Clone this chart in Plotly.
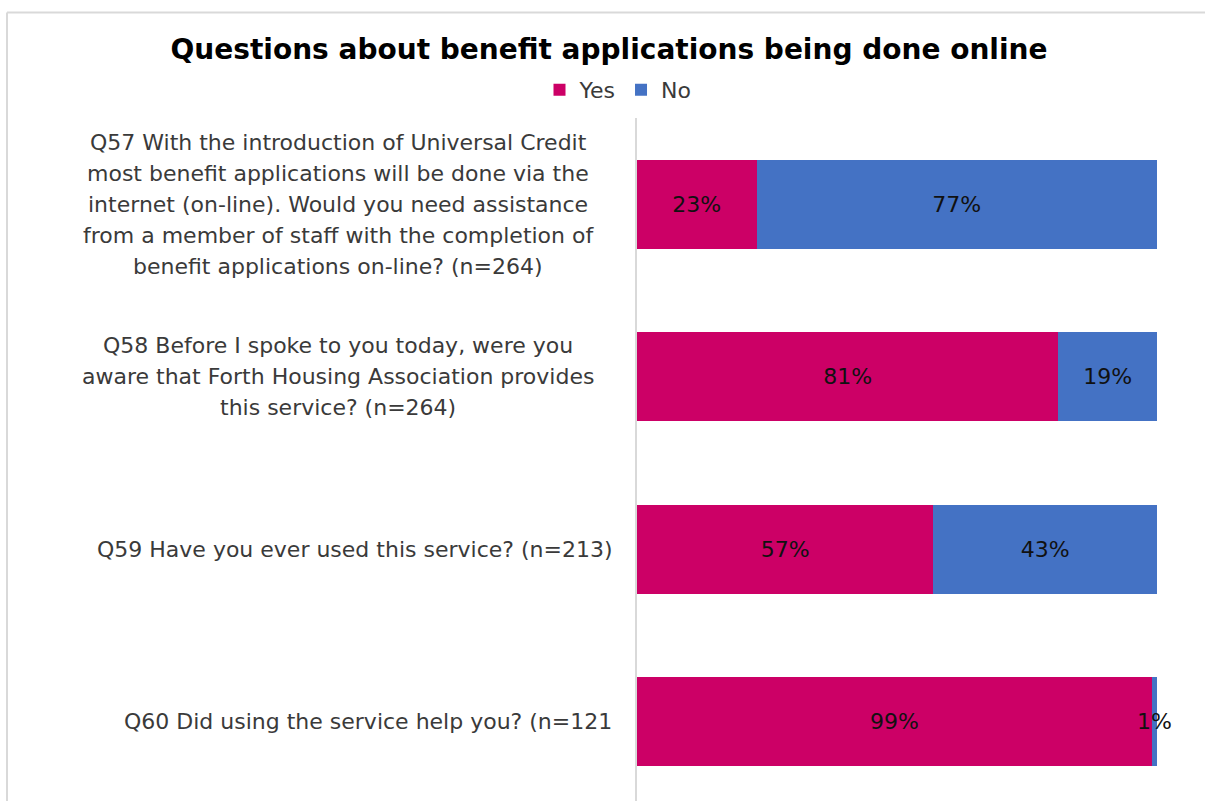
import plotly.graph_objects as go

# Survey questions (one list of wrapped lines per question) and response shares
questions = [
    ["Q57 With the introduction of Universal Credit",
     "most benefit applications will be done via the",
     "internet (on-line). Would you need assistance",
     "from a member of staff with the completion of",
     "benefit applications on-line? (n=264)"],
    ["Q58 Before I spoke to you today, were you",
     "aware that Forth Housing Association provides",
     "this service? (n=264)"],
    ["Q59 Have you ever used this service? (n=213)"],
    ["Q60 Did using the service help you? (n=121"],
]
categories = ["Q57", "Q58", "Q59", "Q60"]
yes_pct = [23, 81, 57, 99]
no_pct = [77, 19, 43, 1]

YES_COLOR = "#CC0066"
NO_COLOR = "#4472C4"
FONT = "DejaVu Sans"

W, H = 1205, 801
ML, MR, MT, MB = 637, 48, 118, 0
plot_w = W - ML - MR
plot_h = H - MT - MB

fig = go.Figure()
for name, vals, color in [("Yes", yes_pct, YES_COLOR), ("No", no_pct, NO_COLOR)]:
    fig.add_trace(go.Bar(
        name=name, y=categories, x=vals, orientation="h",
        marker=dict(color=color, line=dict(width=0)),
        texttemplate="%{x}%", textposition="inside", insidetextanchor="middle",
        textangle=0, constraintext="none", cliponaxis=False,
        textfont=dict(family=FONT, size=22, color="#111111"),
        hoverinfo="skip",
    ))

# Category labels: lines centred within each block, block right-aligned to the axis
line_gap = 31
block_center_px = 338
for cat, lines in zip(categories, questions):
    n = len(lines)
    for i, line in enumerate(lines):
        shift = ((n - 1) / 2 - i) * line_gap
        if n == 1:
            x, xanchor = (614 - ML) / plot_w, "right"
        else:
            x, xanchor = (block_center_px - ML) / plot_w, "center"
        fig.add_annotation(
            x=x, xref="paper", y=cat, yref="y", yshift=shift,
            text=line, showarrow=False, xanchor=xanchor, yanchor="middle",
            font=dict(family=FONT, size=22, color="#3a3a3a"),
        )

# Light frame around the chart (top and left edges)
def px_x(px):
    return (px - ML) / plot_w

def px_y(py):
    return (H - MB - py) / plot_h

frame = dict(type="line", xref="paper", yref="paper",
             line=dict(color="#d9d9d9", width=2))
fig.add_shape(**frame, x0=px_x(7), x1=px_x(1215), y0=px_y(12.5), y1=px_y(12.5))
fig.add_shape(**frame, x0=px_x(7), x1=px_x(7), y0=px_y(12.5), y1=px_y(820))

fig.update_layout(
    width=W, height=H,
    margin=dict(l=ML, r=MR, t=MT, b=MB),
    barmode="stack", bargap=0.484,
    plot_bgcolor="white", paper_bgcolor="white",
    title=dict(
        text="<b>Questions about benefit applications being done online</b>",
        x=609 / W, xanchor="center", y=1 - 49 / H, yanchor="middle",
        font=dict(family=FONT, size=28, color="#000000"),
    ),
    legend=dict(
        orientation="h", x=px_x(618), xanchor="center", y=px_y(90), yanchor="middle",
        font=dict(family=FONT, size=22, color="#3a3a3a"),
        itemwidth=30, traceorder="normal",
    ),
    xaxis=dict(range=[0, 100], visible=False),
    yaxis=dict(
        range=[3.461, -0.5], showticklabels=False, showgrid=False,
        showline=True, linecolor="#d9d9d9", linewidth=1.5, ticks="",
        zeroline=False,
    ),
    showlegend=True,
)

fig.write_html("out.html")
